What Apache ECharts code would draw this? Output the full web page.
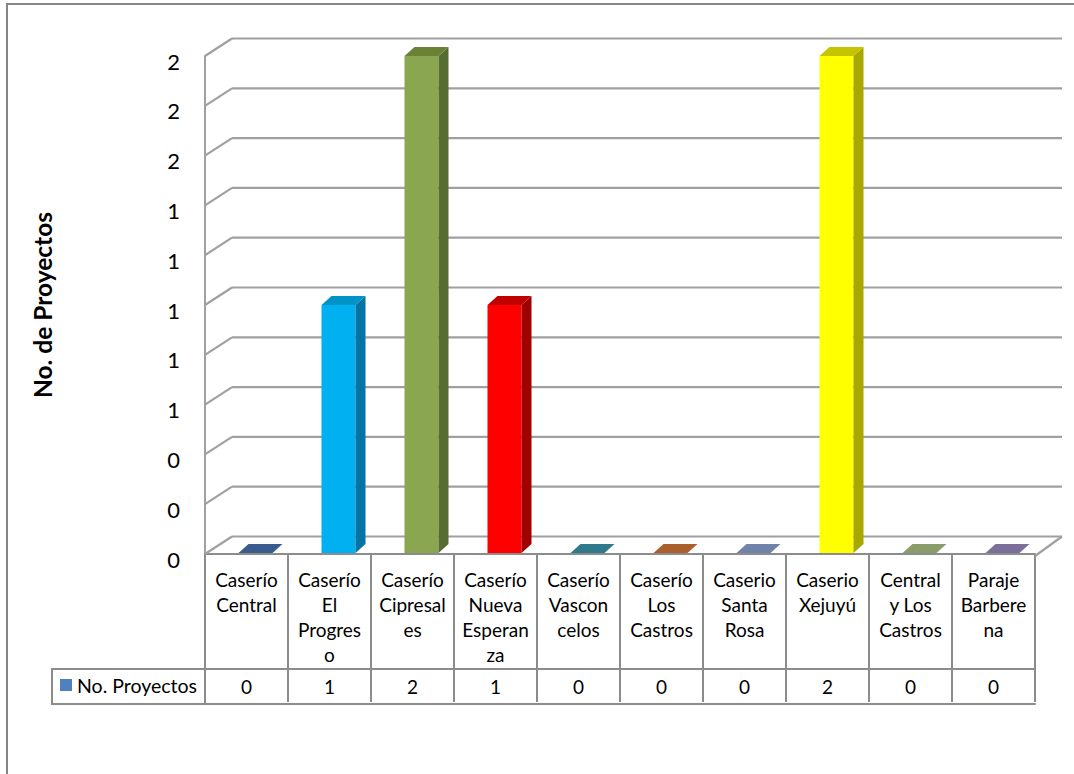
<!DOCTYPE html>
<html><head><meta charset="utf-8">
<script src="https://cdn.jsdelivr.net/npm/echarts@6/dist/echarts.min.js"></script>
<style>html,body{margin:0;padding:0;background:#fff}#c{width:1074px;height:774px}</style>
</head><body><div id="c"></div>
<script>
// ---- data ----
const categories = ['Caserío Central','Caserío El Progreso','Caserío Cipresales','Caserío Nueva Esperanza','Caserío Vasconcelos','Caserío Los Castros','Caserio Santa Rosa','Caserio Xejuyú','Central y Los Castros','Paraje Barberena'];
const categoryLabels = ['Caserío\nCentral','Caserío\nEl\nProgres\no','Caserío\nCipresal\nes','Caserío\nNueva\nEsperan\nza','Caserío\nVascon\ncelos','Caserío\nLos\nCastros','Caserio\nSanta\nRosa','Caserio\nXejuyú','Central\ny Los\nCastros','Paraje\nBarbere\nna'];
const seriesName = 'No. Proyectos';
const projects = [0, 1, 2, 1, 0, 0, 0, 2, 0, 0];
const yTicks = [0, 0.2, 0.4, 0.6, 0.8, 1, 1.2, 1.4, 1.6, 1.8, 2];
const yTickLabels = ['0','0','0','1','1','1','1','1','2','2','2'];
const yTitle = 'No. de Proyectos';

// ---- styles ----
const FONT = 'Lato';
const barStyles = [
  {front:'#4F81BD', side:'#2E4F7A', top:'#3A5B8D'},
  {front:'#00B0F0', side:'#0374A3', top:'#0093C8'},
  {front:'#8BA650', side:'#566C31', top:'#6B8236'},
  {front:'#FF0000', side:'#A00000', top:'#C00000'},
  {front:'#31859C', side:'#1F5A6A', top:'#2E7A8C'},
  {front:'#E46C0A', side:'#8A4A1C', top:'#A9602C'},
  {front:'#8496B8', side:'#53627E', top:'#6F83A8'},
  {front:'#FFFF00', side:'#A8A800', top:'#C4C400'},
  {front:'#A5B68A', side:'#6E7D56', top:'#8A9C6A'},
  {front:'#9888B4', side:'#5E527A', top:'#7C6E9A'}
];
const GRID_C = '#A0A0A0';
const TABLE_C = '#8C8C8C';
const BAR_W = 34, BAR_SHIFT = 9, DX = 10, DY = -9;
const WDX = 27, WDY = -17.5;

function renderBar(params, api) {
  const i = api.value(0), v = api.value(1);
  const p0 = api.coord([i, 0]), p1 = api.coord([i, v]);
  const cx = p0[0] + BAR_SHIFT;
  const x0 = cx - BAR_W / 2, x1 = cx + BAR_W / 2;
  const yb = p0[1] - 1, yt = Math.min(p1[1], yb);
  const c = barStyles[i];
  return {type: 'group', children: [
    {type: 'rect', shape: {x: x0, y: yt, width: BAR_W, height: yb - yt}, style: {fill: c.front}},
    {type: 'polygon', shape: {points: [[x1, yb], [x1 + DX, yb + DY], [x1 + DX, yt + DY], [x1, yt]]}, style: {fill: c.side}},
    {type: 'polygon', shape: {points: [[x0, yt], [x0 + DX, yt + DY], [x1 + DX, yt + DY], [x1, yt]]}, style: {fill: c.top}}
  ]};
}

function renderWall(params, api) {
  const v = api.value(1);
  const cs = params.coordSys;
  const y = api.coord([0, v])[1];
  const left = cs.x, right = cs.x + cs.width;
  const st = {stroke: GRID_C, lineWidth: 2.2};
  const children = [
    {type: 'line', shape: {x1: left, y1: y, x2: left + WDX, y2: y + WDY}, style: st},
    {type: 'line', shape: {x1: left + WDX, y1: y + WDY, x2: right + WDX, y2: y + WDY}, style: st}
  ];
  if (v === 0) {
    children.push({type: 'line', shape: {x1: right, y1: y + 2, x2: right + WDX, y2: y + WDY}, style: st});
  }
  return {type: 'group', children};
}

const chart = echarts.init(document.getElementById('c'), null, {renderer: 'svg'});
chart.setOption({
  animation: false,
  backgroundColor: '#fff',
  textStyle: {fontFamily: FONT},
  grid: {left: 205, right: 39, top: 56, bottom: 220},
  legend: {
    data: [seriesName], left: 60, top: 675, padding: 0, icon: 'rect',
    itemWidth: 12, itemHeight: 12, selectedMode: false,
    textStyle: {fontFamily: FONT, fontSize: 19.5, color: '#000'}
  },
  xAxis: [
    {type: 'category', data: categoryLabels, position: 'bottom', offset: 2,
     axisLine: {lineStyle: {color: TABLE_C, width: 2}},
     axisTick: {show: true, interval: 0, length: 148, lineStyle: {color: TABLE_C, width: 2}},
     axisLabel: {interval: 0, margin: 11, fontSize: 19, lineHeight: 25, verticalAlign: 'top', color: '#000', fontFamily: FONT}},
    {type: 'category', data: projects.map(String), position: 'bottom', offset: 115,
     axisLine: {lineStyle: {color: TABLE_C, width: 2}},
     axisTick: {show: false},
     axisLabel: {interval: 0, margin: 17, fontSize: 19, verticalAlign: 'middle', color: '#000', fontFamily: FONT}},
    {type: 'category', data: categories, position: 'bottom', offset: 150,
     axisLine: {lineStyle: {color: TABLE_C, width: 2}},
     axisTick: {show: false}, axisLabel: {show: false}}
  ],
  yAxis: {
    type: 'value', min: 0, max: 2, interval: 0.2,
    name: yTitle, nameLocation: 'middle', nameGap: 150,
    nameTextStyle: {fontFamily: FONT, fontSize: 24.5, fontWeight: 'bold', color: '#000'},
    axisLine: {show: true, lineStyle: {color: GRID_C, width: 2}},
    axisTick: {show: false},
    splitLine: {show: false},
    axisLabel: {margin: 25, fontSize: 22, lineHeight: 10, verticalAlign: 'top', color: '#000', fontFamily: FONT,
      formatter: (val, idx) => {
        const k = yTicks.findIndex(t => Math.abs(t - val) < 1e-6);
        return yTickLabels[k >= 0 ? k : idx];
      }}
  },
  graphic: [
    {type: 'rect', shape: {x: 7, y: 4, width: 1100, height: 800}, style: {fill: 'none', stroke: '#868686', lineWidth: 2}, silent: true},
    {type: 'rect', shape: {x: 52, y: 669, width: 153, height: 35}, style: {fill: 'none', stroke: TABLE_C, lineWidth: 2}, silent: true}
  ],
  series: [
    {type: 'custom', name: 'wall', renderItem: renderWall, z: 1, silent: true,
     data: yTicks.map(v => [0, v]), encode: {x: 0, y: 1}},
    {type: 'custom', name: seriesName, renderItem: renderBar, z: 3,
     itemStyle: {color: '#4F81BD'},
     data: projects.map((v, i) => [i, v]), encode: {x: 0, y: 1}}
  ]
});
</script>
</body></html>
